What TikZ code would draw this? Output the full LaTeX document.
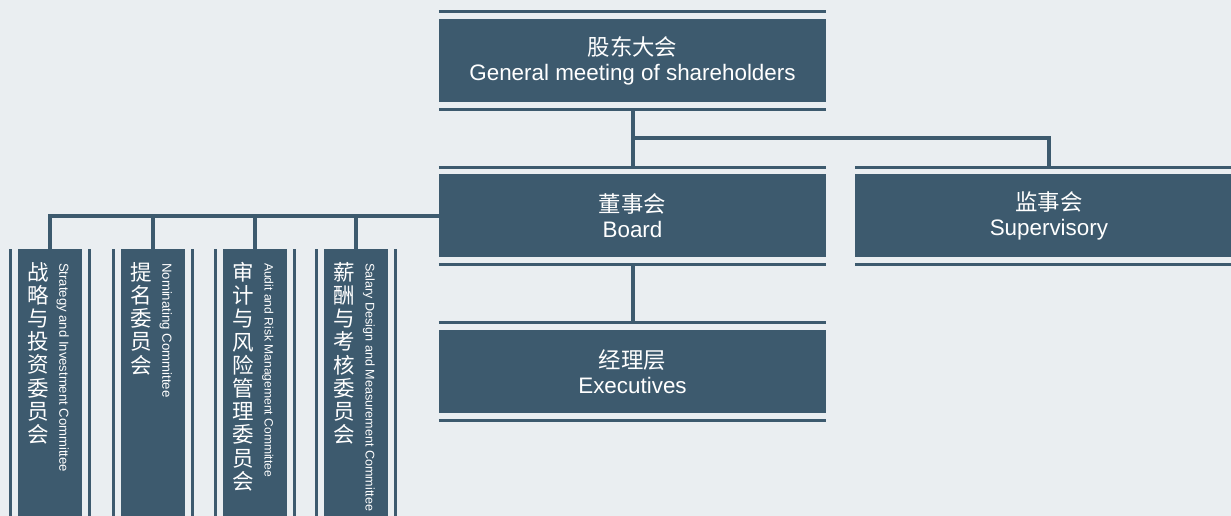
\documentclass[tikz,border=0pt]{standalone}
\usepackage{fontspec}
\setmainfont{Liberation Sans}
\newfontfamily\cjkfont{Noto Sans CJK SC}
\usepackage{xcolor}
\usetikzlibrary{positioning,calc}
\definecolor{slate}{RGB}{61,90,110}
\definecolor{paper}{RGB}{234,238,241}

\begin{document}
\begin{tikzpicture}[
  x=1pt, y=1pt,
  unit/.style={fill=slate, text=white, align=center, inner sep=0pt, minimum width=387pt, minimum height=83pt, font=\fontsize{22.4}{25}\selectfont},
  cmte/.style={fill=slate, anchor=north, inner sep=0pt, minimum width=64pt, minimum height=280pt},
  zh/.style={text=white, anchor=north, align=center, inner sep=0pt, font=\cjkfont\fontsize{21.5}{23.2}\selectfont},
  en/.style={text=white, rotate=-90, anchor=west, inner sep=0pt, font=\fontsize{#1}{14}\selectfont},
  en/.default=13.1,
  bar/.style={draw=slate, line width=3pt},
  link/.style={draw=slate, line width=4pt}]
\path[use as bounding box, fill=paper] (0,0) rectangle (1231,-516);
\clip (0,0) rectangle (1231,-516);
% ---- governance column
\node[unit] (gm) at (632.5,-60.5) {{\cjkfont 股东大会}\\ General meeting of shareholders};
\node[unit, below=72pt of gm] (board) {{\cjkfont 董事会}\\ Board};
\node[unit, right=29pt of board] (sup) {{\cjkfont 监事会}\\ Supervisory};
\node[unit, below=72pt of board] (exec) {{\cjkfont 经理层}\\ Executives};
\foreach \u in {gm,board,sup,exec} {
  \draw[bar] ([yshift=7.2pt]\u.north west) -- ([yshift=7.2pt]\u.north east);
  \draw[bar] ([yshift=-7.2pt]\u.south west) -- ([yshift=-7.2pt]\u.south east);
}
% ---- board committees
\node[cmte] (c1) at (50,-249) {};
\node[cmte] (c2) at (153,-249) {};
\node[cmte] (c3) at (255,-249) {};
\node[cmte] (c4) at (356,-249) {};
\foreach \c in {c1,c2,c3,c4} {
  \draw[bar] ([xshift=-7.5pt]\c.north west) -- ([xshift=-7.5pt]\c.south west);
  \draw[bar] ([xshift=7.5pt]\c.north east) -- ([xshift=7.5pt]\c.south east);
}
\node[zh] (c1zh) at ([xshift=20.5pt, yshift=-13pt]c1.north west) {战\\略\\与\\投\\资\\委\\员\\会};
\node[en] (c1en) at ([xshift=45pt, yshift=-14pt]c1.north west) {Strategy and Investment Committee};
\node[zh] (c2zh) at ([xshift=20.5pt, yshift=-13pt]c2.north west) {提\\名\\委\\员\\会};
\node[en=13.2] (c2en) at ([xshift=45pt, yshift=-14pt]c2.north west) {Nominating Committee};
\node[zh] (c3zh) at ([xshift=20.5pt, yshift=-13pt]c3.north west) {审\\计\\与\\风\\险\\管\\理\\委\\员\\会};
\node[en=12.1] (c3en) at ([xshift=45pt, yshift=-14pt]c3.north west) {Audit and Risk Management Committee};
\node[zh] (c4zh) at ([xshift=20.5pt, yshift=-13pt]c4.north west) {薪\\酬\\与\\考\\核\\委\\员\\会};
\node[en=12.6] (c4en) at ([xshift=45pt, yshift=-14pt]c4.north west) {Salary Design and Measurement Committee};
% ---- connectors
\draw[link] ([yshift=-7.2pt]gm.south) -- ([yshift=7.2pt]board.north);
\draw[link] ($(gm.south)!0.5!(board.north)$) -| ([yshift=7.2pt]sup.north);
\draw[link] ([yshift=-7.2pt]board.south) -- ([yshift=7.2pt]exec.north);
\draw[link] (board.west) -| (c1.north);
\foreach \c in {c2,c3,c4} \draw[link] (\c.north) -- (\c.north |- board.west);
\end{tikzpicture}
\end{document}
